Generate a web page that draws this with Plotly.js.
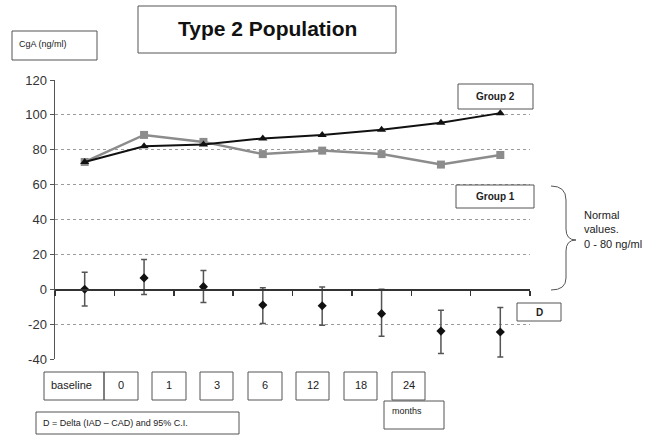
<!DOCTYPE html>
<html>
<head>
<meta charset="utf-8">
<script src="https://cdn.plot.ly/plotly-3.0.1.min.js"></script>
<style>html,body{margin:0;padding:0;background:#fff;}#chart{width:662px;height:435px;}</style>
</head>
<body>
<div id="chart"></div>
<script>
// ---- data ----
const categories = ["baseline", "0", "1", "3", "6", "12", "18", "24"];
const group2 = [73, 82, 83, 86.5, 88.5, 91.5, 95.5, 101];
const group1 = [73, 88.5, 84.5, 77.5, 79.5, 77.5, 71.5, 77];
const delta = [0, 6.5, 1.5, -9, -9.5, -14, -24, -24.5];
const deltaUpper = [9.7, 17, 10.7, 0.8, 1.3, 0, -12, -10.5];
const deltaLower = [-9.6, -3, -7.6, -19.7, -20.6, -27, -36.9, -38.8];
const yTicks = [-40, -20, 0, 20, 40, 60, 80, 100, 120];
const yTickLabels = ["-40", "-20", "0", "20", "40", "60", "80", "100", "120"];

// ---- layout geometry (pixels) ----
const L = 55, R = 530, T = 80, B = 359;
const W = R - L, H = B - T;
const px = x => (x - L) / W;
const py = y => (B - y) / H;
const FONT = "Arial, 'Liberation Sans', sans-serif";

const errPlus = delta.map((v, i) => deltaUpper[i] - v);
const errMinus = delta.map((v, i) => v - deltaLower[i]);

const traces = [
  {
    x: categories, y: group1, type: "scatter", mode: "lines+markers",
    line: {color: "#8c8c8c", width: 2.5},
    marker: {symbol: "square", size: 8, color: "#8c8c8c"},
    hoverinfo: "y"
  },
  {
    x: categories, y: group2, type: "scatter", mode: "lines+markers",
    line: {color: "#111", width: 2},
    marker: {symbol: "triangle-up", size: 8, color: "#111"},
    hoverinfo: "y"
  },
  {
    x: categories, y: delta, type: "scatter", mode: "markers",
    marker: {symbol: "diamond", size: 7, color: "#111"},
    error_y: {type: "data", symmetric: false, array: errPlus, arrayminus: errMinus,
              color: "#555", thickness: 1.5, width: 3},
    hoverinfo: "y"
  }
];

const shapes = [];
const annotations = [];
function box(x0, y0, x1, y1) {
  shapes.push({type: "rect", xref: "paper", yref: "paper",
    x0: px(x0), x1: px(x1), y0: py(y1), y1: py(y0),
    line: {color: "#555", width: 1}, fillcolor: "rgba(255,255,255,0)"});
}
function text(t, x, y, opts) {
  annotations.push(Object.assign({text: t, xref: "paper", yref: "paper",
    x: px(x), y: py(y), showarrow: false, xanchor: "center", yanchor: "middle",
    font: {family: FONT, size: 11, color: "#222"}}, opts || {}));
}

// title box
box(138, 6, 396, 53);
text("<b>Type 2 Population</b>", 267, 29, {font: {family: FONT, size: 21, color: "#111"}});
// y-axis unit box
box(12, 31, 97, 60);
text("CgA (ng/ml)", 17, 44, {xanchor: "left", font: {family: FONT, size: 9, color: "#222"}});
// group labels
box(458, 84, 533, 109);
text("<b>Group 2</b>", 495, 96, {font: {family: FONT, size: 10, color: "#222"}});
box(456, 185, 534, 208);
text("<b>Group 1</b>", 495, 196, {font: {family: FONT, size: 10, color: "#222"}});
box(517, 303, 561, 321);
text("<b>D</b>", 539, 312, {font: {family: FONT, size: 10, color: "#222"}});

// brace
const bp = (x, y) => px(x).toFixed(5) + "," + py(y).toFixed(5);
shapes.push({type: "path", xref: "paper", yref: "paper",
  path: "M" + bp(551, 186) + " Q" + bp(566, 186) + " " + bp(566, 200) +
        " L" + bp(566, 229) + " Q" + bp(566, 240) + " " + bp(576, 240) +
        " Q" + bp(566, 240) + " " + bp(566, 251) +
        " L" + bp(566, 278) + " Q" + bp(566, 290) + " " + bp(551, 290),
  line: {color: "#555", width: 1}});
text("Normal<br>values.<br>0 - 80 ng/ml", 582, 229, {xanchor: "left", align: "left",
  font: {family: FONT, size: 11, color: "#222"}});

// category boxes
const catBoxes = [[44, 104], [104, 138], [152, 186], [200, 233], [248, 282], [296, 329], [344, 377], [392, 425]];
categories.forEach((c, i) => {
  const b = catBoxes[i];
  box(b[0], 372, b[1], 400);
  if (i === 0) text(c, b[0] + 5, 385, {xanchor: "left"});
  else text(c, (b[0] + b[1]) / 2, 385);
});
box(384, 401, 444, 429);
text("months", 390, 411, {xanchor: "left", font: {family: FONT, size: 9, color: "#222"}});
box(36, 412, 239, 434);
text("D = Delta (IAD \u2013 CAD) and 95% C.I.", 41, 423, {xanchor: "left", font: {family: FONT, size: 9, color: "#222"}});

const layout = {
  width: 662, height: 435,
  margin: {l: L, r: 662 - R, t: T, b: 435 - B, pad: 0},
  paper_bgcolor: "#fff", plot_bgcolor: "#fff",
  showlegend: false,
  font: {family: FONT, size: 12, color: "#333"},
  xaxis: {
    type: "category", range: [-0.5, 7.5],
    anchor: "free", position: 0.25,
    showline: true, linecolor: "#333", linewidth: 1.5,
    ticks: "outside", tickson: "boundaries", ticklen: 5, tickcolor: "#333", tickwidth: 1.5,
    showticklabels: false, showgrid: false, zeroline: false, fixedrange: true
  },
  yaxis: {
    range: [-40, 120], tickvals: yTicks, ticktext: yTickLabels,
    showline: true, linecolor: "#555", linewidth: 1.5,
    ticks: "outside", ticklen: 4, tickcolor: "#555",
    showgrid: true, gridcolor: "#9a9a9a", griddash: "dot", gridwidth: 1,
    zeroline: false,
    tickfont: {family: FONT, size: 13, color: "#333"}, fixedrange: true
  },
  shapes: shapes,
  annotations: annotations
};

Plotly.newPlot("chart", traces, layout, {displayModeBar: false, staticPlot: true});
</script>
</body>
</html>
